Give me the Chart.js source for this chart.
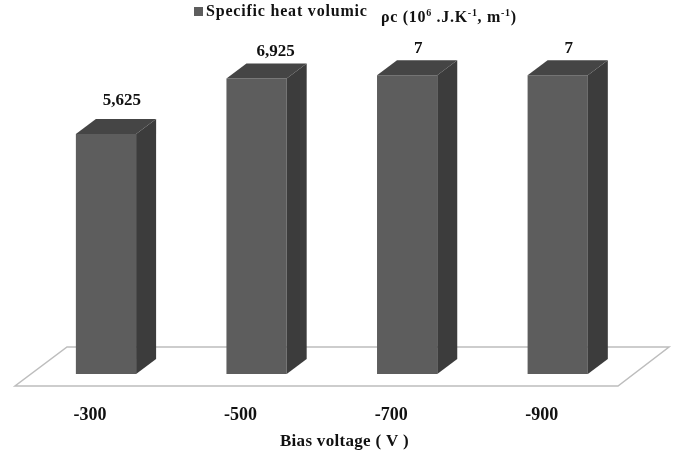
<!DOCTYPE html>
<html>
<head>
<meta charset="utf-8">
<title>Specific heat volumic</title>
<script src="https://cdn.jsdelivr.net/npm/chart.js@4/dist/chart.umd.min.js"></script>
<style>
    html, body { margin: 0; padding: 0; background: #fff; }
    #wrap { position: relative; width: 677px; height: 456px; overflow: hidden; }
    #legend span, #legend i { position: absolute; white-space: nowrap; }
    #legend { font: bold 16px "Liberation Serif", serif; color: #111; }
    #legend i { left: 194px; top: 7px; width: 9px; height: 9px; background: #5d5d5d; }
    #legend sup { font-size: 10px; line-height: 0; }
</style>
</head>
<body>
<div id="wrap">
    <canvas id="chart" width="677" height="456"></canvas>
    <div id="legend">
        <i></i>
        <span id="seriesName" style="left:206px;top:2px;letter-spacing:.8px">Specific heat volumic</span>
        <span id="seriesUnit" style="left:381px;top:8px;letter-spacing:.7px">ρc (10<sup>6</sup> .J.K<sup>-1</sup>, m<sup>-1</sup>)</span>
    </div>
</div>
<script>
const categories = ['-300', '-500', '-700', '-900'];
const values = [5.625, 6.925, 7, 7];
const valueLabels = ['5,625', '6,925', '7', '7'];
const axisTitle = 'Bias voltage ( V )';

const FONT = 'bold 17px "Liberation Serif", serif';
const DEPTH_X = 20;
const DEPTH_Y = 15;
// label position relative to bar top centre
const labelNudges = [[16, -33], [19, -27], [11, -27], [11, -27]];

const pseudo3d = {
    id: 'pseudo3d',
    beforeDatasetsDraw(chart) {
        const { ctx, chartArea } = chart;
        const yFront = chartArea.bottom + 12;
        const yBack = chartArea.bottom - 27;
        ctx.save();
        ctx.beginPath();
        ctx.moveTo(15, yFront);
        ctx.lineTo(618, yFront);
        ctx.lineTo(669, yBack);
        ctx.lineTo(67, yBack);
        ctx.closePath();
        ctx.fillStyle = '#fff';
        ctx.fill();
        ctx.strokeStyle = '#bdbdbd';
        ctx.lineWidth = 1.5;
        ctx.stroke();
        ctx.restore();
    },
    afterDatasetsDraw(chart) {
        const { ctx, chartArea } = chart;
        ctx.save();
        chart.getDatasetMeta(0).data.forEach((bar, i) => {
            const left = bar.x - bar.width / 2;
            const right = bar.x + bar.width / 2;
            // top face
            ctx.beginPath();
            ctx.moveTo(left, bar.y);
            ctx.lineTo(left + DEPTH_X, bar.y - DEPTH_Y);
            ctx.lineTo(right + DEPTH_X, bar.y - DEPTH_Y);
            ctx.lineTo(right, bar.y);
            ctx.closePath();
            ctx.fillStyle = '#454545';
            ctx.fill();
            // side face
            ctx.beginPath();
            ctx.moveTo(right, bar.y);
            ctx.lineTo(right + DEPTH_X, bar.y - DEPTH_Y);
            ctx.lineTo(right + DEPTH_X, bar.base - DEPTH_Y);
            ctx.lineTo(right, bar.base);
            ctx.closePath();
            ctx.fillStyle = '#3c3c3c';
            ctx.fill();
            // value label
            ctx.font = FONT;
            ctx.fillStyle = '#111';
            ctx.textAlign = 'center';
            ctx.textBaseline = 'middle';
            ctx.fillText(valueLabels[i], bar.x + labelNudges[i][0], bar.y + labelNudges[i][1]);
        });
        // axis title sits off centre in the original
        ctx.font = FONT;
        ctx.letterSpacing = '0.3px';
        ctx.fillStyle = '#111';
        ctx.textAlign = 'center';
        ctx.textBaseline = 'middle';
        ctx.fillText(axisTitle, 344.5, chartArea.bottom + 68);
        ctx.restore();
    }
};

new Chart(document.getElementById('chart'), {
    type: 'bar',
    data: {
        labels: categories,
        datasets: [{
            label: 'Specific heat volumic',
            data: values,
            backgroundColor: '#5d5d5d',
            barPercentage: 0.4,
            categoryPercentage: 1
        }]
    },
    options: {
        responsive: false,
        animation: false,
        layout: { padding: { left: 30.7, right: 44, top: 32.6, bottom: 0 } },
        plugins: {
            legend: { display: false },
            tooltip: { enabled: false }
        },
        scales: {
            x: {
                grid: { display: false },
                border: { display: false },
                afterFit: scale => { scale.height = 82; },
                ticks: {
                    color: '#111',
                    font: { family: '"Liberation Serif", serif', size: 18, weight: 'bold' },
                    padding: 23,
                    labelOffset: -16,
                    maxRotation: 0
                }
            },
            y: { display: false, min: 0, max: 8 }
        }
    },
    plugins: [pseudo3d]
});
</script>
</body>
</html>
